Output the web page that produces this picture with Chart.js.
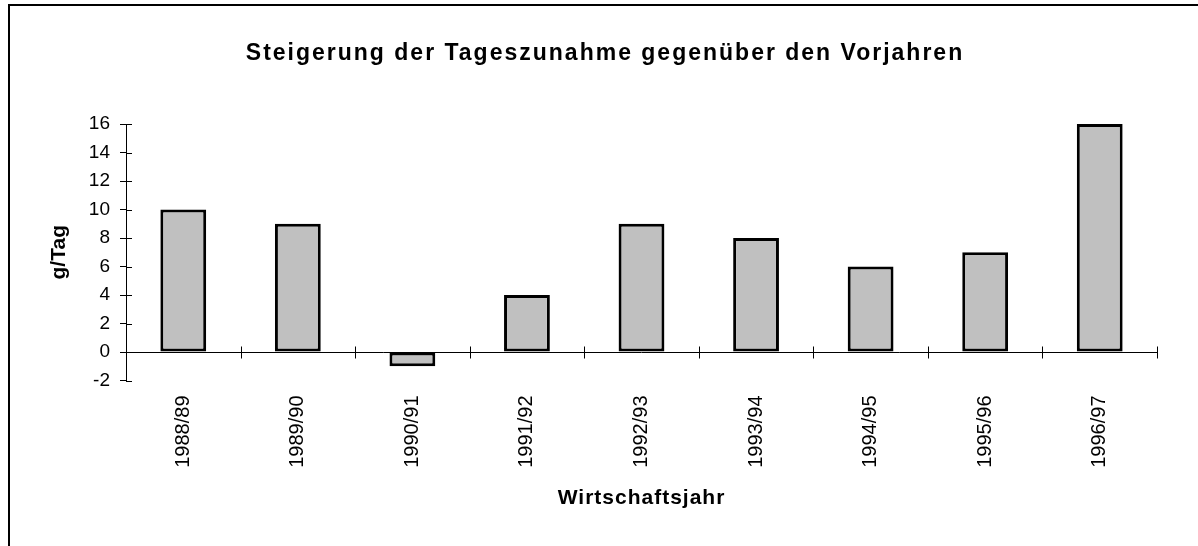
<!DOCTYPE html>
<html>
<head>
<meta charset="utf-8">
<script src="https://cdn.jsdelivr.net/npm/chart.js@4/dist/chart.umd.min.js"></script>
<style>
  html, body { margin: 0; padding: 0; background: #fff; }
  #wrap { width: 1198px; height: 546px; position: relative; }
</style>
</head>
<body>
<div id="wrap"><canvas id="c" width="1198" height="546"></canvas></div>
<script>
const categories = ['1988/89', '1989/90', '1990/91', '1991/92', '1992/93', '1993/94', '1994/95', '1995/96', '1996/97'];
const values = [10, 9, -1, 4, 9, 8, 6, 7, 16];
const yMin = -2;
const yMax = 16;
const yStep = 2;
const titleText = 'Steigerung der Tageszunahme gegenüber den Vorjahren';
const xTitleText = 'Wirtschaftsjahr';
const yTitleText = 'g/Tag';

const FONT = "'Liberation Sans', Arial, sans-serif";

function spaced(obj, method, spacing) {
  if (!obj || obj['_sp_' + method]) return;
  const orig = obj[method];
  obj[method] = function (...args) {
    const c = this.ctx;
    c.save();
    c.letterSpacing = spacing;
    const r = orig.apply(this, args);
    c.restore();
    return r;
  };
  obj['_sp_' + method] = true;
}

const decor = {
  id: 'decor',
  afterLayout(chart) {
    spaced(chart.titleBlock, 'draw', '2px');
    spaced(chart.scales.x, 'drawTitle', '1px');
  },
  beforeDraw(chart) {
    const ctx = chart.ctx;
    ctx.save();
    ctx.fillStyle = '#000';
    ctx.fillRect(8, 4, chart.width - 8, 2);
    ctx.fillRect(8, 4, 2, chart.height - 4);
    ctx.restore();
  },
  beforeDatasetsDraw(chart) {
    const { ctx, scales: { x, y } } = chart;
    const y0 = Math.round(y.getPixelForValue(0)) + 0.5;
    const step = x.getPixelForValue(1) - x.getPixelForValue(0);
    ctx.save();
    ctx.strokeStyle = '#000';
    ctx.lineWidth = 1;
    ctx.beginPath();
    ctx.moveTo(x.left, y0);
    ctx.lineTo(x.right, y0);
    for (let i = 0; i < categories.length; i++) {
      const bx = Math.round(x.getPixelForValue(i) + step / 2) + 0.5;
      ctx.moveTo(bx, y0 - 6);
      ctx.lineTo(bx, y0 + 6);
    }
    const ax = Math.round(y.right);
    y.ticks.forEach(t => {
      const py = Math.round(y.getPixelForValue(t.value)) + 0.5;
      ctx.moveTo(ax, py);
      ctx.lineTo(ax + 6, py);
    });
    ctx.stroke();
    ctx.restore();
  }
};

new Chart(document.getElementById('c'), {
  type: 'bar',
  data: {
    labels: categories,
    datasets: [{
      data: values,
      backgroundColor: '#c0c0c0',
      borderColor: '#000',
      borderWidth: 3,
      borderSkipped: false,
      barPercentage: 0.4,
      categoryPercentage: 1.0
    }]
  },
  options: {
    responsive: false,
    animation: false,
    devicePixelRatio: 1,
    layout: { padding: { left: 53, right: 41, top: 0, bottom: 0 } },
    plugins: {
      legend: { display: false },
      tooltip: { enabled: false },
      title: {
        display: true,
        text: titleText,
        color: '#000',
        font: { family: FONT, size: 23, weight: 'bold', lineHeight: 1.2 },
        padding: { top: 39.5, bottom: 56.9 }
      }
    },
    scales: {
      x: {
        type: 'category',
        offset: true,
        grid: { display: false, drawTicks: false },
        border: { display: false },
        ticks: {
          autoSkip: false,
          maxRotation: 90,
          minRotation: 90,
          padding: 15,
          color: '#000',
          font: { family: FONT, size: 20 }
        },
        title: {
          display: true,
          text: xTitleText,
          color: '#000',
          font: { family: FONT, size: 21, weight: 'bold', lineHeight: 1.2 },
          padding: { top: 0, bottom: 35 }
        },
        afterFit(scale) { scale.height = 546 - 380.5; }
      },
      y: {
        min: yMin,
        max: yMax,
        ticks: {
          stepSize: yStep,
          padding: 10,
          color: '#000',
          font: { family: FONT, size: 19 }
        },
        grid: {
          display: true,
          drawOnChartArea: false,
          drawTicks: true,
          tickLength: 6,
          color: '#000',
          lineWidth: 1
        },
        border: { display: true, color: '#000', width: 1 },
        title: {
          display: true,
          text: yTitleText,
          color: '#000',
          font: { family: FONT, size: 21, weight: 'bold', lineHeight: 0.6 },
          padding: { top: 0, bottom: 0 }
        },
        afterFit(scale) { scale.width = 126 - 53; }
      }
    }
  },
  plugins: [decor]
});
</script>
</body>
</html>
